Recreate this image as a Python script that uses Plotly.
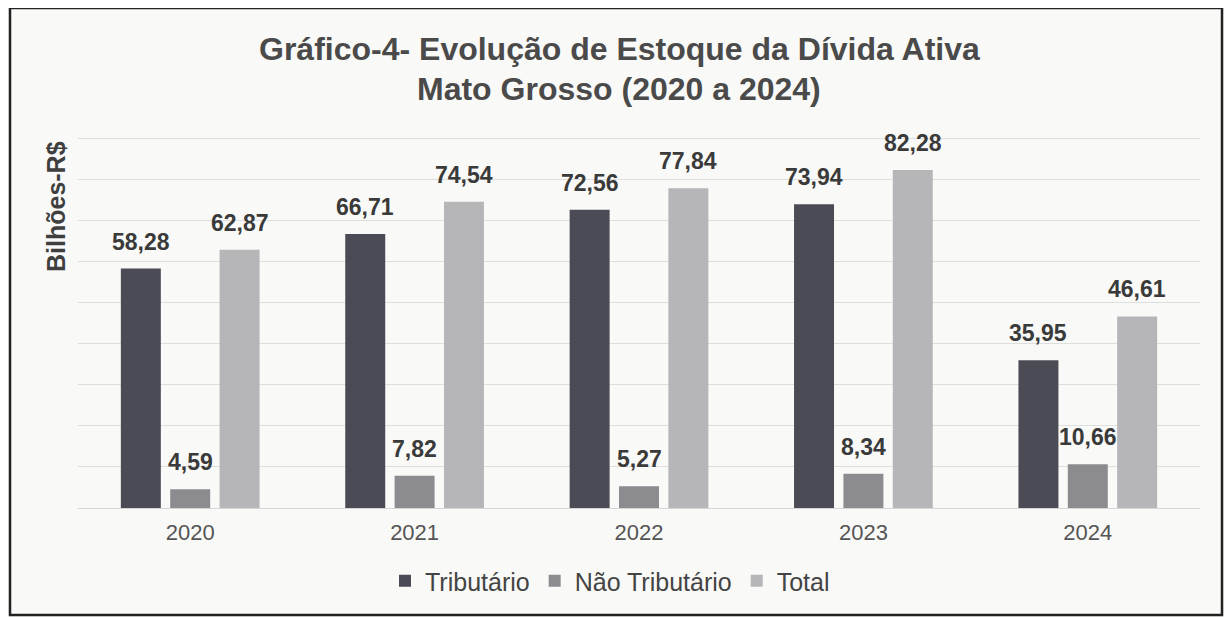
import plotly.graph_objects as go

years = ["2020", "2021", "2022", "2023", "2024"]
tributario = [58.28, 66.71, 72.56, 73.94, 35.95]
nao_tributario = [4.59, 7.82, 5.27, 8.34, 10.66]
total = [62.87, 74.54, 77.84, 82.28, 46.61]

series = [
    ("Tributário", tributario, "#4b4b55"),
    ("Não Tributário", nao_tributario, "#8c8c90"),
    ("Total", total, "#b6b6b9"),
]

# page body has an 8px margin; figure sized to fill the rest of the window
OFF = 8
W, H = 1232 - OFF, 617 - OFF
ML, MR, MT, MB = 78 - OFF, W - (1200 - OFF), 130 - OFF, H - (508 - OFF)
plot_w = W - ML - MR
plot_h = H - MT - MB
YMAX = 92
FONT = "Liberation Sans, Arial"

fig = go.Figure()
for name, vals, color in series:
    fig.add_trace(go.Bar(
        x=years, y=vals, name=name,
        marker=dict(color=color, line=dict(width=0)),
    ))

bargap = 0.34
bargroupgap = 0.19
cat_w = plot_w / len(years)
slot = cat_w * (1 - bargap) / len(series)
annotations = []
for i, (name, vals, color) in enumerate(series):
    shift = (i - 1) * slot
    for j, v in enumerate(vals):
        annotations.append(dict(
            x=j, y=v, xref="x", yref="y",
            text="<b>" + f"{v:.2f}".replace(".", ",") + "</b>",
            showarrow=False, xshift=shift, yshift=12, yanchor="bottom",
            font=dict(family=FONT, size=23, color="#3a3a3a"),
        ))

def px_x(p):
    return (p - OFF - ML) / plot_w

def px_y(p):
    return 1 - (p - OFF - MT) / plot_h

# y-axis title
annotations.append(dict(
    text="<b>Bilhões-R$</b>", textangle=-90, showarrow=False,
    xref="paper", yref="paper", x=px_x(56), y=px_y(207),
    xanchor="center", yanchor="middle",
    font=dict(family=FONT, size=25, color="#3f3f3f"),
))

# title lines
title_lines = ["Gráfico-4- Evolução de Estoque da Dívida Ativa", "Mato Grosso (2020 a 2024)"]
for line, ypix in zip(title_lines, [49, 89]):
    annotations.append(dict(
        text="<b>" + line + "</b>", showarrow=False,
        xref="paper", yref="paper", x=px_x(619), y=px_y(ypix),
        xanchor="center", yanchor="middle",
        font=dict(family=FONT, size=32, color="#4a4a4a"),
    ))

fig.update_layout(
    width=W, height=H,
    margin=dict(l=ML, r=MR, t=MT, b=MB),
    paper_bgcolor="#f9f9f7", plot_bgcolor="#f9f9f7",
    barmode="group", bargap=bargap, bargroupgap=bargroupgap,
    separators=",.",
    xaxis=dict(
        type="category", range=[-0.5, len(years) - 0.5],
        showgrid=False, showline=True, linecolor="#d6d6d6", linewidth=1,
        ticks="", tickfont=dict(family=FONT, size=22, color="#555555"),
        ticklabelstandoff=5,
    ),
    yaxis=dict(
        range=[0, YMAX], dtick=10, showgrid=True, gridcolor="#dedede", gridwidth=1,
        showticklabels=False, zeroline=False, ticks="",
    ),
    legend=dict(
        orientation="h", x=(610 - OFF) / W, xref="container", xanchor="center",
        y=(617 - 581) / H, yref="container", yanchor="middle",
        font=dict(family=FONT, size=25, color="#444444"),
        traceorder="normal",
    ),
    showlegend=True,
    annotations=annotations,
    shapes=[dict(
        type="rect", xref="paper", yref="paper",
        x0=px_x(10), x1=px_x(1222), y0=px_y(615), y1=px_y(8),
        line=dict(color="#222222", width=2.5), fillcolor="rgba(0,0,0,0)",
        layer="above",
    )],
)

fig.write_html("out.html")
